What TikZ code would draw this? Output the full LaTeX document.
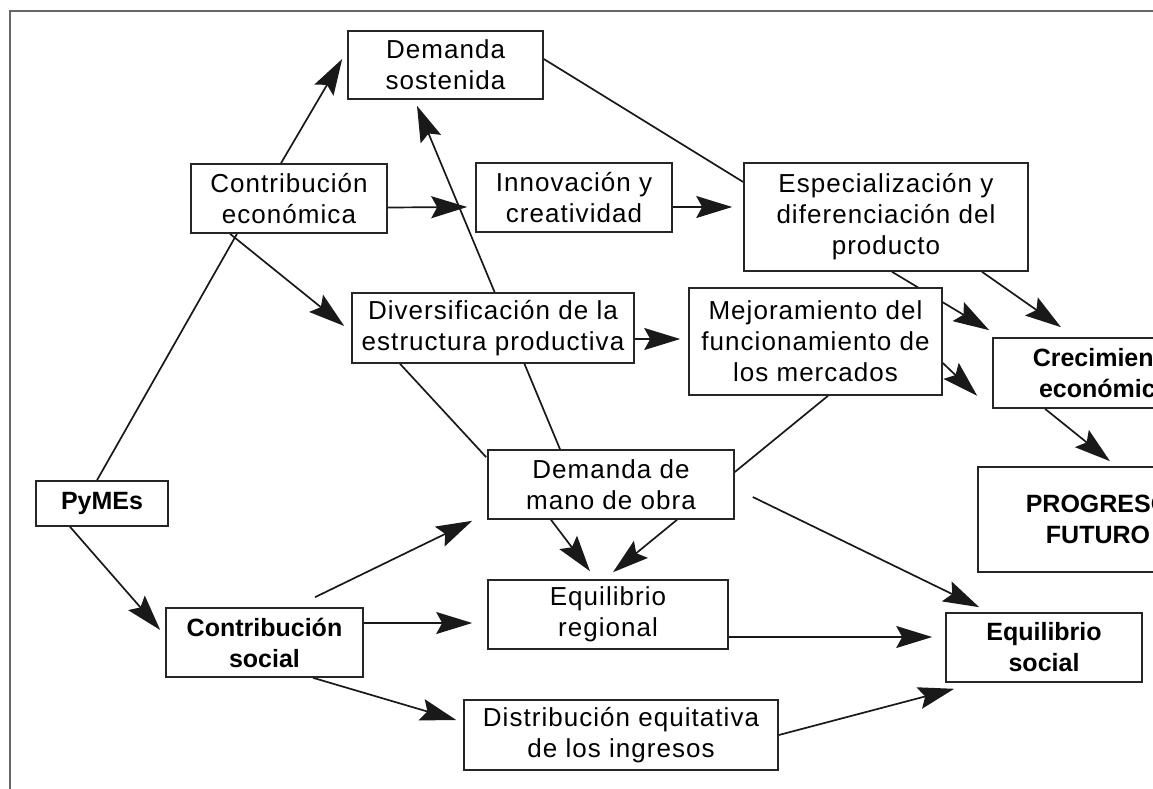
\documentclass[tikz,border=0pt]{standalone}
\usepackage{fontspec}
\usetikzlibrary{arrows.meta,backgrounds}
\newfontfamily\regfont[LetterSpace=4]{Liberation Sans}
\newfontfamily\heavyfont{Liberation Sans}

\tikzset{
  box/.style={draw=black!85, line width=1.6pt, fill=white, inner sep=0pt,
    align=center, font=\regfont\fontsize{26}{31}\selectfont},
  boldbox/.style={box, font=\heavyfont\bfseries\fontsize{25}{31}\selectfont},
  link/.style={line width=1.7pt, draw=black!90},
  arr/.style={link, -{Stealth[length=36pt, width=22pt, inset=6pt]}},
  frame/.style={draw=black!60, line width=2.5pt},
}

\begin{document}
\begin{tikzpicture}[x=1pt, y=-1pt]
\useasboundingbox (0,0) rectangle (1153,789);

% outer frame (open to the right and bottom)
\draw[frame] (10,800) -- (10,11) -- (1160,11);

% boxes
\node[box, minimum width=195pt, minimum height=68pt] (ds) at (445.5,65) {Demanda\\sostenida};
\node[box, minimum width=196pt, minimum height=69pt] (ce) at (289,198.5) {Contribución\\económica};
\node[box, minimum width=196pt, minimum height=69pt] (inn) at (574,197.5) {Innovación y\\creatividad};
\node[box, minimum width=284pt, minimum height=108pt] (esp) at (886,217) {Especialización y\\diferenciación del\\producto};
\node[box, minimum width=282pt, minimum height=70pt] (div) at (493,328) {Diversificación de la\\estructura productiva};
\node[box, minimum width=253pt, minimum height=107pt] (mej) at (815.5,341.5) {Mejoramiento del\\funcionamiento de\\los mercados};
\node[box, minimum width=246pt, minimum height=69pt] (dmo) at (611,484.5) {Demanda de\\mano de obra};
\node[boldbox, minimum width=132pt, minimum height=45pt] (pym) at (102,503.5) {PyMEs};
\node[boldbox, minimum width=197pt, minimum height=69pt] (cs) at (264.5,642.5) {Contribución\\social};
\node[box, minimum width=240pt, minimum height=69pt] (er) at (608,614.5) {Equilibrio\\regional};
\node[box, minimum width=314pt, minimum height=70pt] (dist) at (621,735) {Distribución equitativa\\de los ingresos};
\node[boldbox, minimum width=196pt, minimum height=69pt] (es) at (1044,647.5) {Equilibrio\\social};
\node[boldbox, minimum width=224pt, minimum height=70pt] (cre) at (1105,373) {Crecimiento\\económico};
\node[boldbox, minimum width=240pt, minimum height=105pt] (prog) at (1098,519.5) {PROGRESO\\FUTURO};

% connectors, kept behind the boxes
\begin{scope}[on background layer]
  \draw[arr] ([xshift=-8pt]ce.north) -- ([shift={(-5pt,6pt)}]ds.west);
  \draw[link] ([yshift=6pt]ds.east) -- ([yshift=35pt]esp.west);
  \draw[arr] ([yshift=-9pt]ce.east) -- ([shift={(-8pt,-9.5pt)}]inn.west);
  \draw[arr] ([yshift=-9.5pt]inn.east) -- ([shift={(-11pt,10pt)}]esp.west);
  \draw[arr] ([xshift=-51pt]dmo.north) -- ([shift={(-28.5pt,-6pt)}]ds.south);
  \draw[arr] ([xshift=-59pt]ce.south) -- ([shift={(-7pt,2pt)}]div.west);
  \draw[link] ([xshift=-5pt]pym.north) -- ([xshift=-52pt]ce.south);
  \draw[arr] ([xshift=-32pt]pym.south) -- ([shift={(-5pt,12.5pt)}]cs.west);
  \draw[arr] ([yshift=-11pt]div.east) -- ([shift={(-8pt,2.5pt)}]mej.west);
  \draw[link] ([xshift=-93pt]div.south) -- ([shift={(-1pt,-8pt)}]dmo.north west);
  \draw[link] ([xshift=12.5pt]mej.south) -- ([yshift=12.5pt]dmo.east);
  \draw[arr] ([xshift=6pt]esp.south) -- ([shift={(-3pt,7pt)}]cre.north west);
  \draw[arr] ([xshift=96pt]esp.south) -- ([shift={(-44pt,10pt)}]cre.north);
  \draw[arr] ([yshift=-21.5pt]mej.east) -- ([shift={(-15pt,13pt)}]cre.south west);
  \draw[arr] ([xshift=-60pt]cre.south) -- ([shift={(12pt,5pt)}]prog.north);
  \draw[arr] ([shift={(18pt,-12.5pt)}]dmo.east) -- ([shift={(34pt,5pt)}]es.north west);
  \draw[arr] ([shift={(50.5pt,10pt)}]cs.north) -- ([shift={(-15pt,-1pt)}]dmo.south west);
  \draw[arr] ([yshift=19.5pt]cs.east) -- ([shift={(-15pt,-8.5pt)}]er.west);
  \draw[arr] ([xshift=48.5pt]cs.south) -- ([shift={(-7pt,15pt)}]dist.west);
  \draw[arr] ([xshift=-60pt]dmo.south) -- ([shift={(-18pt,8pt)}]er.north);
  \draw[arr] ([xshift=66pt]dmo.south) -- ([shift={(5pt,7pt)}]er.north);
  \draw[arr] ([shift={(-3pt,-22.5pt)}]er.east) -- ([shift={(-13pt,10.5pt)}]es.west);
  \draw[arr] (dist.east) -- ([shift={(9pt,-6pt)}]es.south west);
\end{scope}
\end{tikzpicture}
\end{document}
